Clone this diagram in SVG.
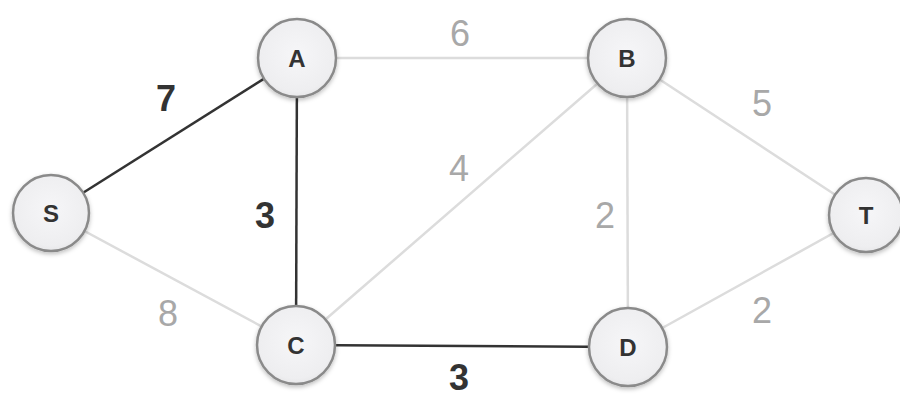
<svg xmlns="http://www.w3.org/2000/svg" width="900" height="398" viewBox="0 0 900 398">
<defs>
<radialGradient id="g" cx="50%" cy="45%" r="60%">
<stop offset="0" stop-color="#f6f6f8"/>
<stop offset="0.8" stop-color="#eeeef0"/>
<stop offset="1" stop-color="#e2e2e4"/>
</radialGradient>
<filter id="sh" x="-20%" y="-20%" width="140%" height="150%">
<feDropShadow dx="0" dy="2" stdDeviation="2" flood-color="#000" flood-opacity="0.25"/>
</filter>
</defs>
<style>
.n{fill:url(#g);stroke:#8a8a8a;stroke-width:2.5;filter:url(#sh)}
.nt{font-family:"Liberation Sans",Arial,sans-serif;font-weight:bold;font-size:24px;fill:#333;text-anchor:middle}
.e{stroke:#dcdcdc;stroke-width:2.5;fill:none}
.ed{stroke:#333;stroke-width:2.5;fill:none}
.l{font-family:"Liberation Sans",Arial,sans-serif;font-size:36px;fill:#a8a8a8;text-anchor:middle}
.ld{font-family:"Liberation Sans",Arial,sans-serif;font-size:36px;font-weight:bold;fill:#333;text-anchor:middle}
</style>
<rect width="900" height="398" fill="#fff"/>
<g id="connectors">
<line class="ed" x1="51" y1="213" x2="297" y2="58"/>
<line class="ed" x1="297" y1="58" x2="296" y2="345"/>
<line class="ed" x1="296" y1="345" x2="628" y2="347"/>
<line class="e" x1="297" y1="58" x2="627" y2="58"/>
<line class="e" x1="296" y1="345" x2="627" y2="58"/>
<line class="e" x1="51" y1="213" x2="296" y2="345"/>
<line class="e" x1="627" y1="58" x2="628" y2="347"/>
<line class="e" x1="627" y1="58" x2="866" y2="215"/>
<line class="e" x1="628" y1="347" x2="866" y2="215"/>
<text class="ld" x="166" y="111">7</text>
<text class="ld" x="265" y="228">3</text>
<text class="ld" x="459" y="390">3</text>
<text class="l" x="460" y="46">6</text>
<text class="l" x="762" y="116">5</text>
<text class="l" x="459" y="181">4</text>
<text class="l" x="605" y="228">2</text>
<text class="l" x="168" y="326">8</text>
<text class="l" x="762" y="323">2</text>
</g>
<g id="S"><circle class="n" cx="51" cy="213" r="38"/><text class="nt" x="51" y="222">S</text></g>
<g id="A"><circle class="n" cx="297" cy="58" r="39"/><text class="nt" x="297" y="67">A</text></g>
<g id="B"><circle class="n" cx="627" cy="58" r="39"/><text class="nt" x="627" y="67">B</text></g>
<g id="C"><circle class="n" cx="296" cy="345" r="39"/><text class="nt" x="296" y="354">C</text></g>
<g id="D"><circle class="n" cx="628" cy="347" r="39"/><text class="nt" x="628" y="356">D</text></g>
<g id="T"><circle class="n" cx="866" cy="215" r="37"/><text class="nt" x="866" y="224">T</text></g>
</svg>
